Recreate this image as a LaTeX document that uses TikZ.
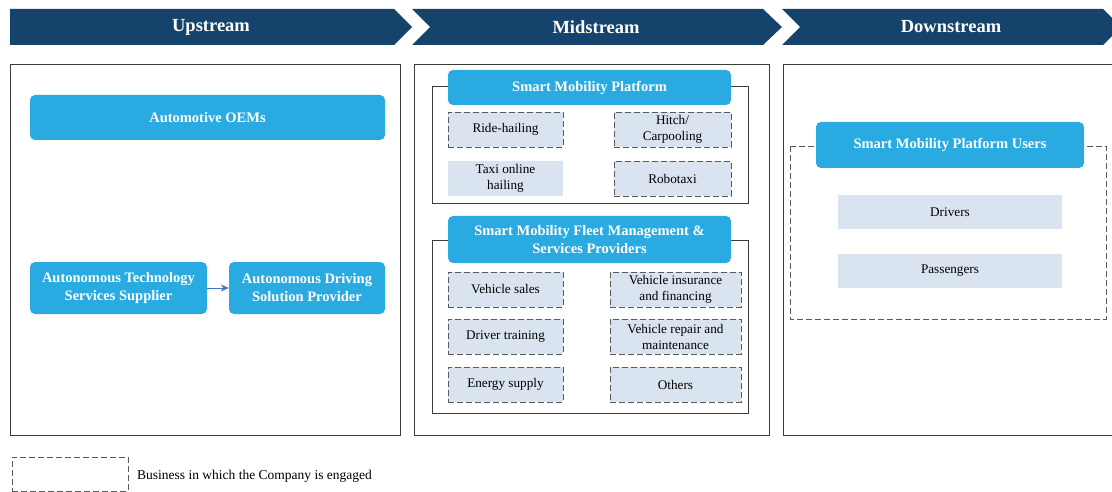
\documentclass[tikz,border=0pt]{standalone}
\usepackage{fontspec}
\setmainfont{Liberation Serif}
\usetikzlibrary{arrows.meta}

\definecolor{navy}{RGB}{21,67,107}
\definecolor{skyblue}{RGB}{41,171,226}
\definecolor{itemfill}{RGB}{218,227,240}
\definecolor{dashgray}{RGB}{90,90,90}
\definecolor{framegray}{RGB}{60,60,60}
\definecolor{arrowblue}{RGB}{68,114,196}

\begin{document}
\begin{tikzpicture}[x=1pt,y=-1pt]
    % value chain: three stages
    % - header chevrons on top
    % - one panel per stage, items inside
    \tikzset{stage/.style = {text=white,font=\bfseries\fontsize{18.5}{22}\selectfont}}
    \tikzset{panel/.style = {draw=framegray,line width=0.8pt}}
    \tikzset{titlebox/.style = {shape=rectangle,rounded corners=5pt,fill=skyblue,text=white,
        inner sep=0pt,align=center,font=\bfseries\fontsize{14.5}{18}\selectfont}}
    \tikzset{item/.style = {shape=rectangle,fill=itemfill,draw=dashgray,line width=0.9pt,
        dash pattern=on 6pt off 3pt,inner sep=0pt,align=center,font=\fontsize{13.2}{16}\selectfont}}
    \tikzset{plainitem/.style = {item,draw=none}}
    \tikzset{pre/.style = {-{Stealth[length=8pt,width=7pt]},draw=arrowblue,line width=1pt}}

    \useasboundingbox (0,0) rectangle (1112,492);

    % header chevrons
    \fill[navy] (10,9) -- (394,9) -- (412,27) -- (394,45) -- (10,45) -- cycle;
    \fill[navy] (412,9) -- (763,9) -- (782,27) -- (763,45) -- (412,45) -- (430,27) -- cycle;
    \fill[navy] (782,9) -- (1103,9) -- (1112,18) -- (1112,36) -- (1103,45) -- (782,45) -- (800,27) -- cycle;
    \node[stage] (up)   at (211,27) {Upstream};
    \node[stage] (mid)  at (596,27) {Midstream};
    \node[stage] (down) at (951,27) {Downstream};

    % panels
    \draw[panel] (10,64) rectangle (400,435);
    \draw[panel] (414,64) rectangle (769,435);
    \draw[panel] (1113,64) -- (783,64) -- (783,435) -- (1113,435);

    % upstream
    \node[titlebox,minimum width=355pt,minimum height=45pt] (oem) at (207.5,117.5) {Automotive OEMs};
    \node[titlebox,minimum width=177pt,minimum height=52pt] (tech) at (118.5,288)
        {Autonomous Technology\\Services Supplier};
    \node[titlebox,minimum width=156pt,minimum height=52pt] (solution) at (307,288)
        {Autonomous Driving\\Solution Provider};
    \draw[pre] (tech) -- (solution);

    % midstream: platform
    \draw[panel] (432,86) rectangle (748,203);
    \node[titlebox,minimum width=283pt,minimum height=35pt] (platform) at (589.5,87.5)
        {Smart Mobility Platform};
    \node[item,minimum width=115pt,minimum height=35pt] (ride) at (505.5,129.5) {Ride-hailing};
    \node[item,minimum width=117pt,minimum height=35pt] (hitch) at (672.5,129.5) {Hitch/\\Carpooling};
    \node[plainitem,minimum width=115pt,minimum height=35pt] (taxi) at (505.5,178.5) {Taxi online\\hailing};
    \node[item,minimum width=117pt,minimum height=35pt] (robotaxi) at (672.5,178.5) {Robotaxi};

    % midstream: fleet management
    \draw[panel] (432,240) rectangle (748,413);
    \node[titlebox,minimum width=283pt,minimum height=47pt] (fleet) at (589.5,239.5)
        {Smart Mobility Fleet Management \&\\Services Providers};
    \node[item,minimum width=115pt,minimum height=35pt] (sales) at (505.5,289.5) {Vehicle sales};
    \node[item,minimum width=115pt,minimum height=35pt] (training) at (505.5,336.5) {Driver training};
    \node[item,minimum width=115pt,minimum height=35pt] (energy) at (505.5,384.5) {Energy supply};
    \node[item,minimum width=131pt,minimum height=35pt] (insurance) at (675.5,289.5)
        {Vehicle insurance\\and financing};
    \node[item,minimum width=131pt,minimum height=35pt] (repair) at (675.5,336.5)
        {Vehicle repair and\\maintenance};
    \node[item,minimum width=131pt,minimum height=35pt] (others) at (675.5,384.5) {Others};

    % downstream
    \draw[draw=dashgray,line width=0.9pt,dash pattern=on 6pt off 3pt] (790,146) rectangle (1106,319);
    \node[titlebox,minimum width=268pt,minimum height=46pt] (users) at (950,145)
        {Smart Mobility Platform Users};
    \node[plainitem,minimum width=224pt,minimum height=34pt] (drivers) at (950,212) {Drivers};
    \node[plainitem,minimum width=224pt,minimum height=34pt] (passengers) at (950,270.5) {Passengers};

    % legend
    \node[item,fill=none,minimum width=116pt,minimum height=34pt] (key) at (70,474) {};
    \node[anchor=west,inner sep=0pt,font=\fontsize{13.5}{16}\selectfont] (keytext) at (137,476)
        {Business in which the Company is engaged};
\end{tikzpicture}
\end{document}
